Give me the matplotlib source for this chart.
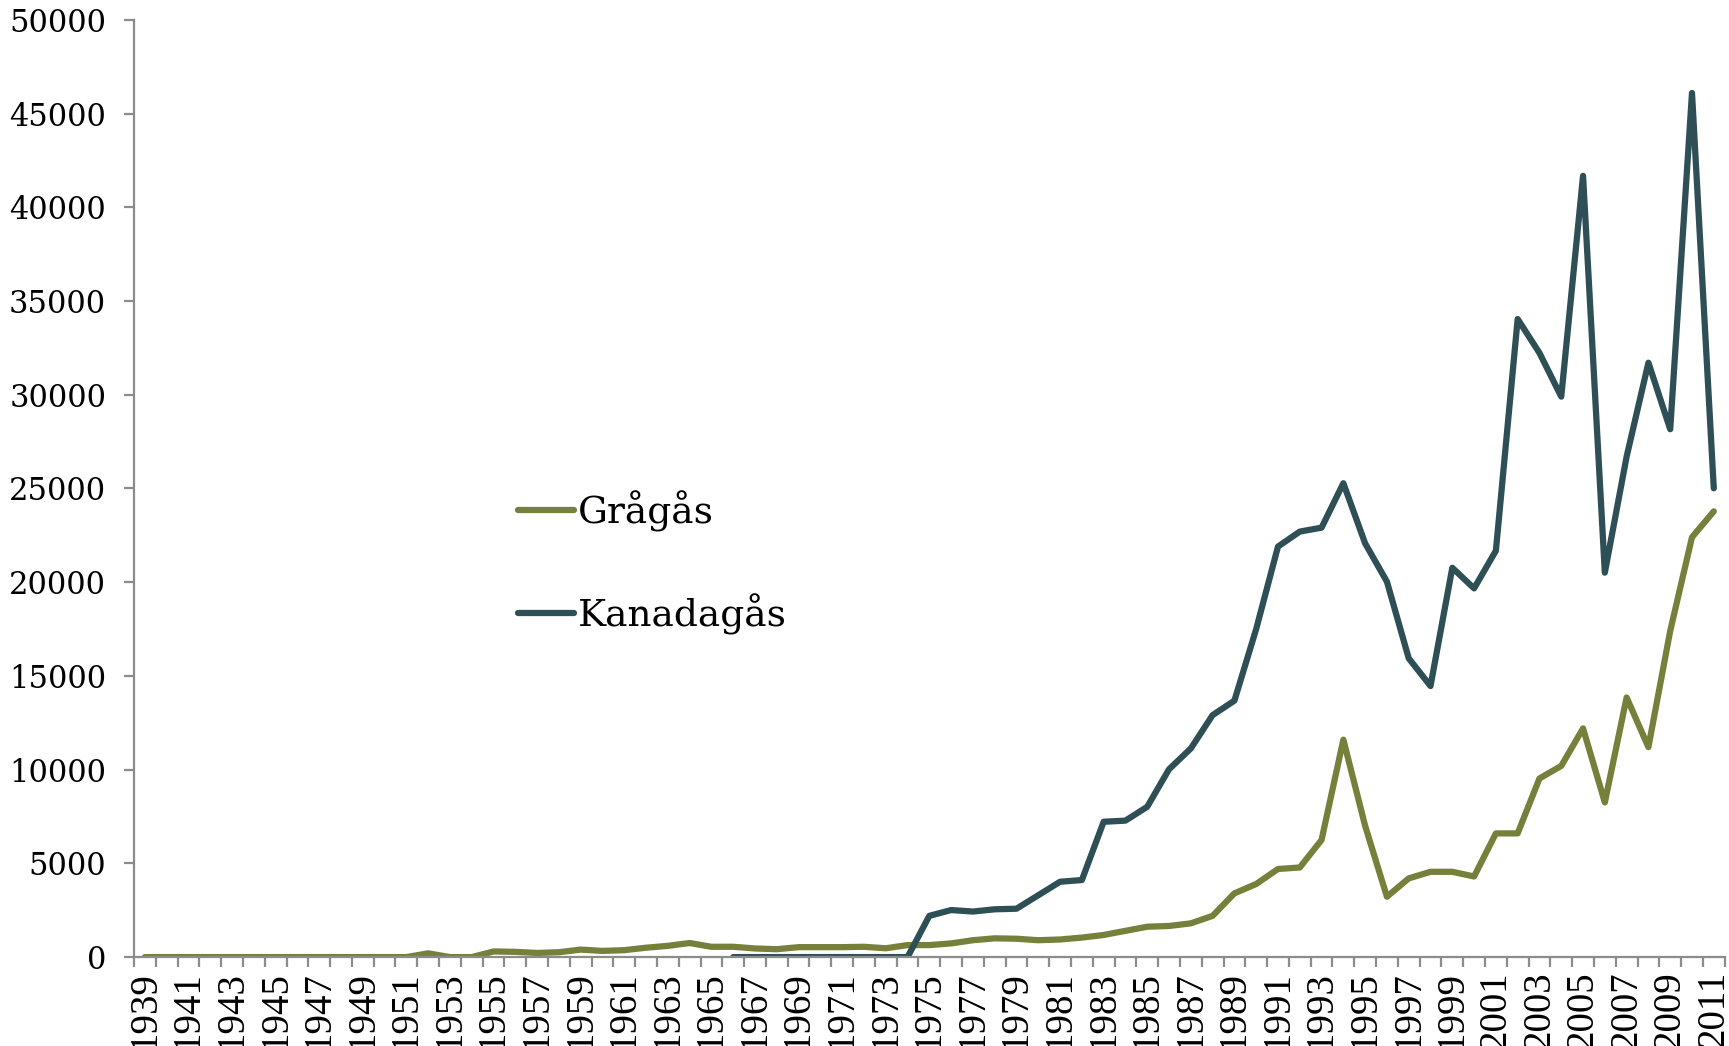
import numpy as np
import matplotlib
matplotlib.use("Agg")
import matplotlib.pyplot as plt

years = list(range(1939, 2012))

# Grågås, 1939-2011
gragas = [0, 0, 0, 0, 0, 0, 0, 0, 0, 0, 0, 0, 0,
          200, 0, 0, 300, 280, 220, 260, 400, 330, 370, 500, 600, 750,
          550, 550, 460, 420, 530, 530, 530, 550, 470, 640,
          640, 730, 900, 1000, 980, 900, 940, 1040, 1180, 1400,
          1620, 1660, 1800, 2200, 3400, 3900, 4700, 4780, 6250, 11600,
          7000, 3220, 4200, 4550, 4550, 4300, 6600, 6600, 9530, 10200,
          12200, 8250, 13850, 11200, 17400, 22400, 23780]

# Kanadagås, counted from 1966
kanada_start = 1966
kanadagas = [0, 0, 0, 0, 0, 0, 0, 0, 0,
             2200, 2510, 2430, 2550, 2580, 3300, 4020, 4110, 7220, 7280,
             8020, 10020, 11130, 12910, 13680, 17500, 21900, 22700, 22910, 25280,
             22070, 20030, 15940, 14460, 20770, 19670, 21680, 34040, 32230, 29900,
             41680, 20510, 26700, 31710, 28160, 46100, 25010]

kanada_full = [np.nan] * (kanada_start - years[0]) + kanadagas

green = "#77803a"
dark = "#2f4f56"
axis_grey = "#8c8c8c"

fig = plt.figure(figsize=(17.29, 10.46), dpi=100)
ax = fig.add_axes([0.0775, 0.085, 0.920, 0.896])

x = np.arange(len(years))
ax.plot(x, gragas, color=green, linewidth=4.5, solid_capstyle="round",
        label="Grågås")
ax.plot(x, kanada_full, color=dark, linewidth=4.5, solid_capstyle="round",
        label="Kanadagås")

ax.set_xlim(-0.5, len(years) - 0.5)
ax.set_ylim(0, 50000)

ax.spines["top"].set_visible(False)
ax.spines["right"].set_visible(False)
for s in ("left", "bottom"):
    ax.spines[s].set_color(axis_grey)
    ax.spines[s].set_linewidth(1.6)

# y axis
ax.set_yticks(np.arange(0, 50001, 5000))
ax.set_yticklabels([str(v) for v in range(0, 50001, 5000)],
                   fontfamily="DejaVu Serif", fontsize=22)
ax.tick_params(axis="y", direction="out", length=7, width=1.6,
               color=axis_grey, pad=13)

# x axis: tick marks between categories, labels every other year
ax.set_xticks(np.arange(-0.5, len(years), 1.0), minor=True)
ax.set_xticks(x[::2])
ax.set_xticklabels([str(y) for y in years[::2]], rotation=90,
                   fontfamily="Liberation Serif", fontsize=28)
ax.tick_params(axis="x", which="major", length=0, pad=10)
ax.tick_params(axis="x", which="minor", direction="out", length=7,
               width=1.6, color=axis_grey)

leg = ax.legend(loc="center left", bbox_to_anchor=(0.2996, 0.462),
                bbox_transform=fig.transFigure, frameon=False,
                prop={"family": "DejaVu Serif", "size": 27},
                handlelength=1.5, handletextpad=0.1, labelspacing=1.65,
                borderpad=0, borderaxespad=0)

fig.savefig("out.png", dpi=100)
